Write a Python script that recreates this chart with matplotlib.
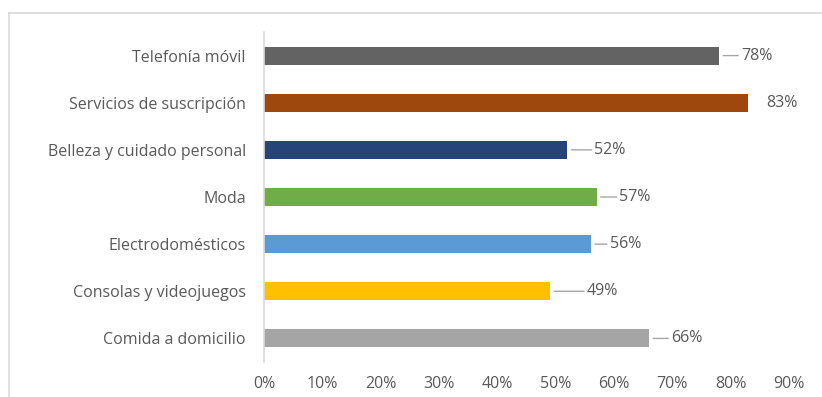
import matplotlib.pyplot as plt
from matplotlib.lines import Line2D
from matplotlib.ticker import PercentFormatter

# Chart data (top to bottom)
categories = [
    "Telefonía móvil",
    "Servicios de suscripción",
    "Belleza y cuidado personal",
    "Moda",
    "Electrodomésticos",
    "Consolas y videojuegos",
    "Comida a domicilio",
]
values = [0.78, 0.83, 0.52, 0.57, 0.56, 0.49, 0.66]
colors = ["#636363", "#9E480E", "#264478", "#70AD47", "#5B9BD5", "#FFC000", "#A5A5A5"]

# label offsets in pixels from bar end, and whether a leader line is drawn
label_offsets = [22, 18, 27, 23, 19, 37, 22]
leader = [True, False, True, True, True, True, True]

text_color = "#595959"
plt.rcParams["font.family"] = ["Open Sans", "DejaVu Sans"]

fig = plt.figure(figsize=(8.22, 3.97), dpi=100)
W, H = 822, 397
ax = fig.add_axes([264 / W, 1 - 362 / H, (789 - 264) / W, (362 - 32) / H])

ypos = list(range(len(categories)))[::-1]
ax.barh(ypos, values, height=0.38, color=colors)

for y, v, off, lead in zip(ypos, values, label_offsets, leader):
    ax.annotate(
        f"{round(v * 100)}%", xy=(v, y), xytext=(off, 0), textcoords="offset pixels",
        ha="left", va="center", fontsize=11.5, color=text_color,
        arrowprops=dict(arrowstyle="-", color="#A6A6A6", lw=1, shrinkA=0, shrinkB=3) if lead else None,
    )

ax.set_xlim(0, 0.9)
ax.set_ylim(-0.5, 6.5)
ax.set_xticks([i / 10 for i in range(10)])
ax.xaxis.set_major_formatter(PercentFormatter(1.0, decimals=0))
ax.set_yticks(ypos)
ax.set_yticklabels(categories)
ax.tick_params(axis="both", length=0, labelsize=11.5, colors=text_color)
ax.tick_params(axis="y", pad=13)
ax.tick_params(axis="x", pad=10)

for s in ["top", "right", "bottom"]:
    ax.spines[s].set_visible(False)
ax.spines["left"].set_color("#D9D9D9")
ax.spines["left"].set_linewidth(1.2)

# chart area border
bx0, by0, bx1 = 8.5 / W, 1 - 13 / H, 821 / W
fig.add_artist(Line2D([bx0, bx1], [by0, by0], color="#D9D9D9", lw=1.2, transform=fig.transFigure))
fig.add_artist(Line2D([bx0, bx0], [0, by0], color="#D9D9D9", lw=1.2, transform=fig.transFigure))

fig.savefig("out.png", dpi=100, facecolor="white")
